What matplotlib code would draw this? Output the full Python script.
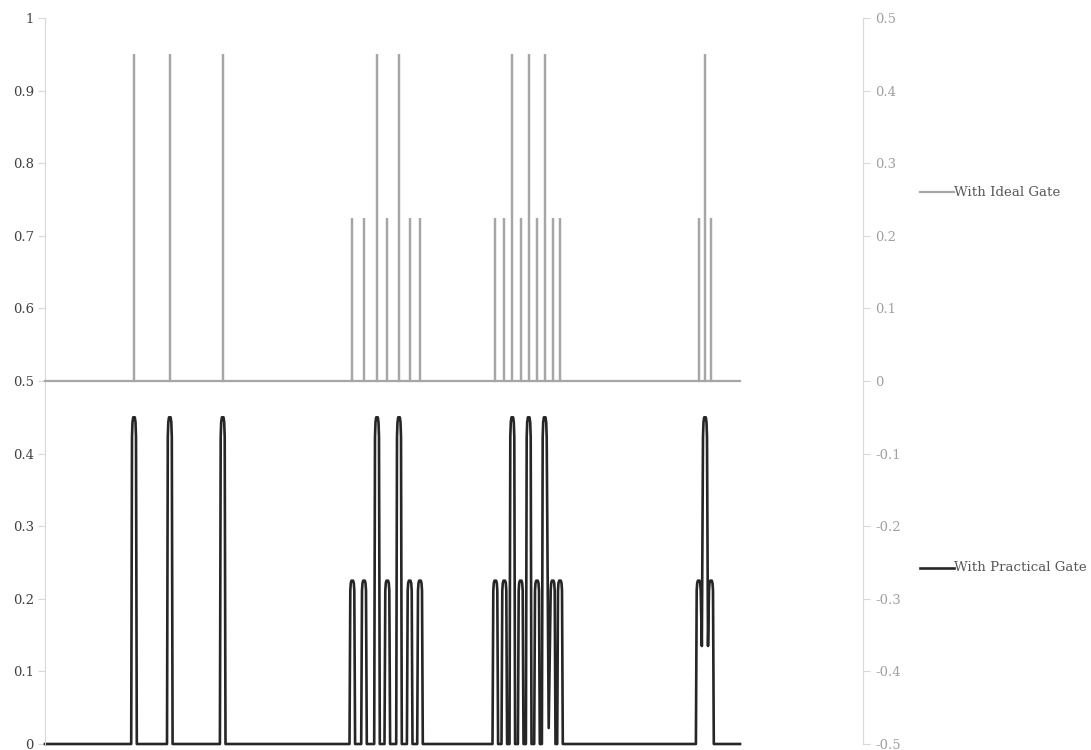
import matplotlib.pyplot as plt
from matplotlib.lines import Line2D

# pulse positions (time units, arbitrary) and pulse heights
pulse_times = [89.0, 124.8, 177.7,
               307.3, 319.0, 332.0, 342.3, 354.0, 364.7, 375.0,
               450.3, 459.3, 467.3, 475.7, 483.7, 492.0, 499.7, 507.7, 515.0,
               653.7, 660.0, 666.0]
pulse_heights = [0.45, 0.45, 0.45,
                 0.225, 0.225, 0.45, 0.225, 0.45, 0.225, 0.225,
                 0.225, 0.225, 0.45, 0.225, 0.45, 0.225, 0.45, 0.225, 0.225,
                 0.225, 0.45, 0.225]
# level the practical trace falls back to after each pulse
practical_dips = [0, 0, 0,
                  0, 0, 0, 0, 0, 0, 0,
                  0, 0, 0, 0, 0, 0, 0.022, 0, 0,
                  0.135, 0.135, 0]
t_end = 695.0

left_ticks = [0, 0.1, 0.2, 0.3, 0.4, 0.5, 0.6, 0.7, 0.8, 0.9, 1]
right_ticks = [-0.5, -0.4, -0.3, -0.2, -0.1, 0, 0.1, 0.2, 0.3, 0.4, 0.5]

BLACK = "#262626"
GRAY = "#A6A6A6"
SPINE = "#D9D9D9"


def practical_trace(times, heights, dips):
    xs, ys = [0.0], [0.0]
    for i, (c, h) in enumerate(zip(times, heights)):
        if not (i > 0 and dips[i - 1] > 0):
            xs.append(c - 2.8)
            ys.append(0.0)
        xs += [c - 2.0, c - 1.5, c - 0.8, c + 0.8, c + 1.5, c + 2.0]
        ys += [0.94 * h, 0.985 * h, h, h, 0.985 * h, 0.94 * h]
        if dips[i] > 0:
            xs.append((c + times[i + 1]) / 2)
            ys.append(dips[i])
        else:
            xs.append(c + 2.8)
            ys.append(0.0)
    xs.append(t_end)
    ys.append(0.0)
    return xs, ys


def ideal_trace(times, heights):
    xs, ys = [0.0], [0.0]
    for c, h in zip(times, heights):
        xs += [c, c, c]
        ys += [0.0, h, 0.0]
    xs.append(t_end)
    ys.append(0.0)
    return xs, ys


plt.rcParams["font.family"] = ["DejaVu Serif"]
plt.rcParams["axes.unicode_minus"] = False

W, H = 1091, 750
fig = plt.figure(figsize=(W / 100, H / 100), dpi=100)
ax = fig.add_axes([45 / W, 1 - 744 / H, (863 - 45) / W, (744 - 18) / H])
ax2 = ax.twinx()

px, py = practical_trace(pulse_times, pulse_heights, practical_dips)
ix, iy = ideal_trace(pulse_times, pulse_heights)

ax.plot(px, py, color=BLACK, lw=1.9, solid_joinstyle="round", clip_on=False)
ax2.plot(ix, iy, color=GRAY, lw=1.6, solid_joinstyle="miter", clip_on=False)

ax.set_xlim(0, 818)
ax.set_ylim(0, 1)
ax2.set_ylim(-0.5, 0.5)

for a in (ax, ax2):
    for s in a.spines.values():
        s.set_visible(False)
    a.set_xticks([])
ax.spines["left"].set_visible(True)
ax.spines["left"].set_color(SPINE)
ax2.spines["right"].set_visible(True)
ax2.spines["right"].set_color(SPINE)

ax.set_yticks(left_ticks)
ax.set_yticklabels([f"{v:g}" for v in left_ticks])
ax.tick_params(axis="y", length=5, color=SPINE, labelcolor="#404040", labelsize=9.5, pad=3)
ax2.set_yticks(right_ticks)
ax2.set_yticklabels([f"{round(v, 1) + 0.0:g}" for v in right_ticks])
ax2.tick_params(axis="y", length=5, color=SPINE, labelcolor="#A0A0A0", labelsize=9.5, pad=4)

# legend entries at the right side
for label, color, lw, y in [("With Ideal Gate", GRAY, 1.6, 192),
                            ("With Practical Gate", BLACK, 1.9, 567.5)]:
    yf = 1 - y / H
    fig.add_artist(Line2D([920 / W, 954 / W], [yf, yf], color=color, lw=lw))
    fig.text(954 / W, yf, label, color="#595959", fontsize=9.6, va="center", ha="left")

fig.savefig("out.png", dpi=100)
